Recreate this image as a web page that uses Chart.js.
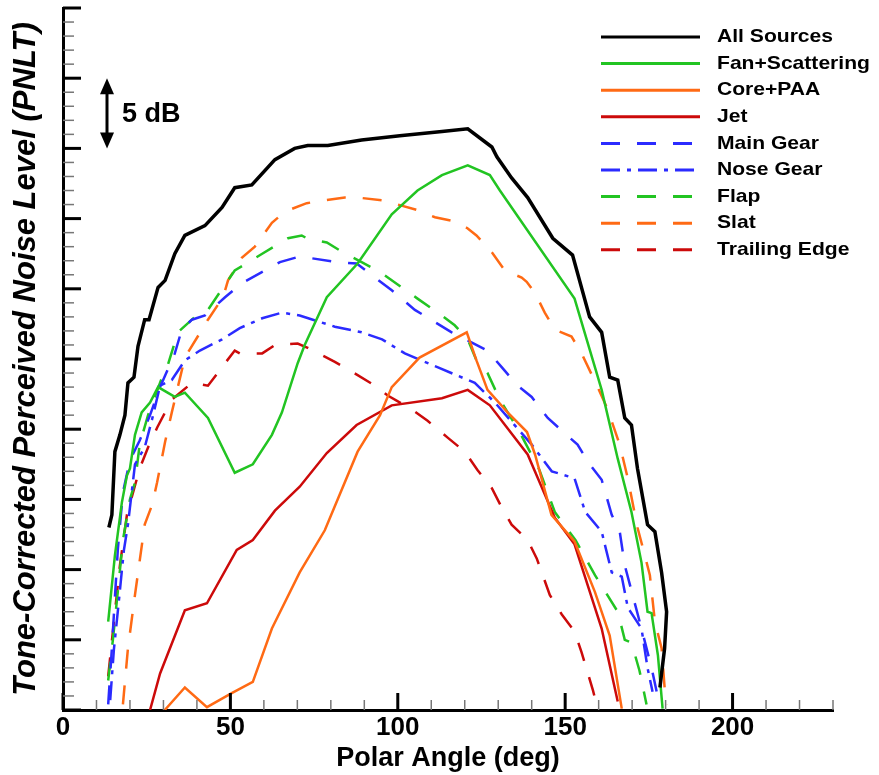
<!DOCTYPE html>
<html>
<head>
<meta charset="utf-8">
<script src="https://cdn.jsdelivr.net/npm/chart.js@4.4.1/dist/chart.umd.min.js"></script>
<style>
  html, body { margin: 0; padding: 0; background: #fff; }
  #wrap { position: relative; width: 879px; height: 775px; }
</style>
</head>
<body>
<div id="wrap"><canvas id="pnlt"></canvas></div>
<script>
// polar angle (deg) / PNLT level (dB, arbitrary zero) for each noise source
const allAngle = [13.7, 14.6, 15.5, 17.0, 18.5, 19.4, 21.2, 22.4, 24.4, 25.7, 28.4, 30.5, 33.4, 36.4, 42.4, 47.5, 51.3, 56.4, 63.3, 69.2, 73.1, 79.1, 89.2, 100.6, 113.2, 120.9, 128.1, 129.6, 134.0, 138.8, 146.3, 152.2, 157.3, 160.9, 163.3, 165.7, 167.8, 169.8, 171.6, 174.6, 176.8, 178.8, 180.3, 179.7, 178.3];
const allLevel = [13.0, 13.9, 18.4, 19.6, 21.0, 23.3, 23.7, 25.9, 27.8, 27.8, 30.1, 30.6, 32.5, 33.8, 34.5, 35.8, 37.2, 37.4, 39.2, 40.0, 40.2, 40.2, 40.6, 40.9, 41.2, 41.4, 40.1, 39.4, 37.9, 36.5, 33.6, 32.4, 28.0, 26.9, 23.7, 23.5, 20.8, 20.3, 17.2, 13.2, 12.7, 9.8, 7.0, 4.4, 1.6];

const fanAngle = [13.5, 15.5, 17.6, 19.1, 20.0, 21.5, 23.5, 26.0, 28.4, 33.4, 36.4, 43.3, 51.3, 56.7, 62.4, 65.4, 70.1, 72.2, 78.8, 88.0, 98.2, 105.9, 113.2, 120.9, 127.5, 130.5, 152.8, 160.9, 165.7, 169.8, 172.8, 174.6, 175.8, 177.7, 179.1];
const fanLevel = [6.3, 11.0, 14.8, 16.7, 17.2, 19.6, 21.2, 21.9, 23.0, 22.3, 22.6, 20.8, 16.9, 17.5, 19.6, 21.2, 24.7, 26.0, 29.4, 31.8, 35.3, 37.0, 38.1, 38.8, 38.1, 37.0, 29.3, 22.8, 17.9, 14.1, 10.5, 7.0, 6.9, 3.9, 0.1];

const coreAngle = [30.4, 36.4, 43.0, 50.4, 56.7, 62.4, 70.7, 78.2, 88.0, 94.7, 98.2, 106.5, 120.6, 123.5, 126.8, 132.8, 138.6, 141.0, 145.9, 152.8, 158.9, 163.3, 166.9];
const coreLevel = [0.0, 1.6, 0.2, 1.2, 2.0, 5.8, 9.8, 12.8, 18.4, 21.0, 23.0, 25.1, 26.9, 24.9, 22.8, 21.2, 19.8, 18.2, 13.9, 12.0, 8.4, 5.3, 0.1];

const jetAngle = [26.0, 29.0, 36.4, 43.0, 51.9, 56.7, 63.3, 70.7, 78.8, 87.7, 98.2, 113.2, 120.9, 127.5, 138.8, 146.9, 152.8, 160.9, 165.7];
const jetLevel = [0.0, 2.6, 7.1, 7.6, 11.4, 12.1, 14.2, 15.9, 18.3, 20.3, 21.7, 22.2, 22.8, 21.7, 18.2, 13.7, 11.8, 5.8, 0.6];

const mainGearAngle = [13.5, 14.6, 15.5, 16.4, 17.9, 20.0, 22.9, 26.0, 29.0, 33.4, 35.5, 38.5, 42.4, 48.4, 53.4, 60.3, 64.8, 70.7, 82.1, 87.7, 93.2, 98.2, 105.1, 116.1, 126.8, 131.1, 135.8, 140.0, 144.8, 149.0, 153.7, 157.3, 160.9, 163.9, 166.3, 167.8, 169.8, 172.8, 175.8, 177.7];
const mainGearLevel = [0.4, 4.4, 8.0, 11.5, 15.5, 17.8, 19.2, 21.0, 23.0, 25.4, 27.1, 27.8, 28.1, 29.4, 30.4, 31.3, 31.9, 32.3, 31.9, 31.8, 30.8, 29.9, 28.5, 26.9, 25.6, 24.4, 23.1, 22.3, 20.8, 19.9, 18.9, 17.5, 16.4, 13.9, 12.7, 10.3, 8.5, 5.8, 3.0, 0.9];

const noseGearAngle = [14.1, 15.2, 16.7, 18.2, 19.4, 21.5, 24.4, 26.6, 29.0, 32.5, 36.4, 40.9, 47.5, 52.8, 59.5, 65.4, 70.7, 81.2, 89.2, 95.3, 102.1, 112.0, 123.0, 129.0, 140.0, 146.0, 152.8, 156.0, 160.9, 163.9, 166.9, 168.7, 172.8, 174.6, 176.1];
const noseGearLevel = [0.7, 4.3, 7.8, 11.4, 13.2, 17.5, 18.7, 20.7, 23.1, 23.5, 24.9, 25.6, 26.4, 27.2, 27.9, 28.3, 28.1, 27.3, 26.9, 26.4, 25.4, 24.4, 23.3, 21.9, 18.9, 17.0, 16.5, 14.1, 12.7, 9.8, 9.5, 7.3, 5.8, 3.0, 1.3];

const flapAngle = [13.5, 14.9, 16.4, 17.9, 20.0, 21.5, 22.9, 25.4, 29.6, 31.1, 34.3, 39.4, 43.3, 47.8, 51.3, 59.5, 67.2, 71.3, 72.8, 78.8, 83.6, 89.2, 94.7, 101.2, 105.9, 112.0, 117.0, 120.9, 123.5, 126.8, 130.5, 136.4, 142.3, 146.9, 153.1, 158.9, 161.8, 165.7, 167.8, 169.8, 172.2, 174.3];
const flapLevel = [2.1, 5.0, 8.5, 12.1, 15.0, 16.2, 18.9, 21.0, 23.7, 24.4, 26.9, 28.0, 28.5, 30.1, 31.3, 32.5, 33.6, 33.8, 33.6, 33.3, 32.6, 31.9, 31.2, 30.1, 29.3, 28.3, 27.4, 26.4, 24.9, 24.0, 22.1, 19.8, 17.1, 14.1, 12.1, 9.6, 8.5, 7.0, 5.0, 4.8, 2.8, 0.4];

const slatAngle = [17.9, 19.4, 21.5, 24.4, 26.6, 28.1, 30.5, 32.5, 36.4, 43.3, 47.8, 49.3, 53.4, 57.3, 62.4, 66.3, 72.8, 78.2, 84.2, 88.0, 95.3, 100.0, 105.9, 111.1, 117.0, 120.9, 123.5, 128.1, 132.0, 137.0, 138.5, 141.0, 143.9, 146.9, 151.9, 154.9, 159.7, 162.7, 166.3, 168.7, 171.6, 173.8, 175.3, 176.8, 178.8, 179.7, 180.3];
const slatLevel = [0.4, 4.4, 8.2, 13.2, 14.6, 16.2, 19.1, 21.2, 25.1, 27.8, 29.4, 30.6, 32.2, 33.0, 34.7, 35.5, 36.1, 36.3, 36.5, 36.5, 36.3, 36.0, 35.6, 35.1, 34.8, 34.3, 33.8, 32.6, 31.3, 30.8, 30.5, 29.7, 28.3, 27.1, 26.6, 25.4, 23.0, 21.4, 18.9, 16.5, 13.0, 11.0, 9.6, 6.3, 4.4, 1.6, 0.4];

const teAngle = [13.5, 14.9, 17.0, 19.1, 22.9, 25.4, 28.1, 30.5, 32.5, 38.5, 43.3, 48.4, 51.3, 52.8, 59.5, 63.3, 70.1, 73.1, 81.2, 86.3, 93.2, 97.0, 104.2, 108.9, 114.9, 120.0, 123.8, 128.1, 131.1, 134.0, 138.8, 141.5, 145.4, 149.0, 152.8, 154.9, 158.3, 159.7];
const teLevel = [2.4, 5.6, 10.3, 13.9, 17.2, 18.7, 20.1, 21.2, 22.1, 23.3, 23.1, 24.7, 25.6, 25.4, 25.4, 26.0, 26.1, 25.8, 24.8, 24.1, 23.1, 22.4, 21.4, 20.6, 19.4, 18.4, 17.1, 15.8, 14.4, 13.2, 12.1, 10.8, 8.2, 6.8, 5.6, 4.1, 1.4, 0.1];

const xTickLabels = [0, 50, 100, 150, 200];

const BLACK = '#000000';
const GREEN = '#22c422';
const ORANGE = '#ff6a14';
const DARKRED = '#cc0a0a';
const BLUE = '#2b2bff';
const DASH = [19, 17];
const DASHDOT = [19, 7, 4, 7];

function pts(xs, ys) {
	return xs.map((v, i) => ({ x: v, y: ys[i] }));
}

function series(label, xs, ys, color, dash, width) {
	return {
		label: label,
		data: pts(xs, ys),
		borderColor: color,
		backgroundColor: color,
		borderWidth: width || 2.5,
		borderDash: dash || [],
		pointRadius: 0,
		tension: 0,
		fill: false
	};
}

const datasets = [
	series('All Sources', allAngle, allLevel, BLACK, null, 3.5),
	series('Fan+Scattering', fanAngle, fanLevel, GREEN),
	series('Core+PAA', coreAngle, coreLevel, ORANGE),
	series('Jet', jetAngle, jetLevel, DARKRED),
	series('Main Gear', mainGearAngle, mainGearLevel, BLUE, DASH),
	series('Nose Gear', noseGearAngle, noseGearLevel, BLUE, DASHDOT),
	series('Flap', flapAngle, flapLevel, GREEN, DASH),
	series('Slat', slatAngle, slatLevel, ORANGE, DASH),
	series('Trailing Edge', teAngle, teLevel, DARKRED, DASH)
];

// inward tick marks on both axes (major every 50 deg / 5 dB)
const insideTicks = {
	id: 'insideTicks',
	afterDraw(chart) {
		const { ctx, chartArea: a, scales: { x, y } } = chart;
		ctx.save();
		for (let v = 0; v <= 230; v += 10) {
			const px = x.getPixelForValue(v);
			const major = v % 50 === 0;
			ctx.strokeStyle = major ? '#000' : '#777';
			ctx.lineWidth = major ? 3 : 1.5;
			ctx.beginPath();
			ctx.moveTo(px, a.bottom);
			ctx.lineTo(px, a.bottom - (major ? 17 : 10));
			ctx.stroke();
		}
		for (let v = 0; v <= 50; v += 1) {
			const py = y.getPixelForValue(v);
			const major = v % 5 === 0;
			ctx.strokeStyle = major ? '#000' : '#777';
			ctx.lineWidth = major ? 3 : 1.5;
			ctx.beginPath();
			ctx.moveTo(a.left, py);
			ctx.lineTo(a.left + (major ? 18 : 11), py);
			ctx.stroke();
		}
		ctx.restore();
	}
};

// 5 dB scale arrow
const dbArrow = {
	id: 'dbArrow',
	afterDraw(chart) {
		const { ctx, chartArea: a, scales: { y } } = chart;
		const ax = a.left + 44;
		const top = y.getPixelForValue(45);
		const bot = y.getPixelForValue(40);
		ctx.save();
		ctx.strokeStyle = '#000';
		ctx.fillStyle = '#000';
		ctx.lineWidth = 3;
		ctx.beginPath();
		ctx.moveTo(ax, top + 12);
		ctx.lineTo(ax, bot - 12);
		ctx.stroke();
		ctx.beginPath();
		ctx.moveTo(ax, top);
		ctx.lineTo(ax - 7, top + 16);
		ctx.lineTo(ax + 7, top + 16);
		ctx.closePath();
		ctx.fill();
		ctx.beginPath();
		ctx.moveTo(ax, bot);
		ctx.lineTo(ax - 7, bot - 16);
		ctx.lineTo(ax + 7, bot - 16);
		ctx.closePath();
		ctx.fill();
		ctx.font = 'bold 27px "Liberation Sans", Arial, sans-serif';
		ctx.textBaseline = 'middle';
		ctx.fillText('5 dB', ax + 15, (top + bot) / 2 + 1);
		ctx.restore();
	}
};

// line-sample legend in the upper right
const lineLegend = {
	id: 'lineLegend',
	afterDraw(chart) {
		const { ctx } = chart;
		ctx.save();
		chart.data.datasets.forEach((ds, i) => {
			const yy = 37 + i * 26.6;
			ctx.strokeStyle = ds.borderColor;
			ctx.lineWidth = 3;
			ctx.setLineDash(ds.borderDash);
			ctx.beginPath();
			ctx.moveTo(601, yy);
			ctx.lineTo(700, yy);
			ctx.stroke();
			ctx.setLineDash([]);
			ctx.fillStyle = '#000';
			ctx.font = 'bold 19px "Liberation Sans", Arial, sans-serif';
			ctx.textBaseline = 'middle';
			ctx.save();
			ctx.translate(717, yy);
			ctx.scale(1.11, 1);
			ctx.fillText(ds.label, 0, 0);
			ctx.restore();
		});
		ctx.restore();
	}
};

const FONT = '"Liberation Sans", Arial, sans-serif';

const config = {
	type: 'line',
	data: { datasets: datasets },
	options: {
		responsive: true,
		maintainAspectRatio: false,
		animation: false,
		layout: { padding: { top: 8, right: 46, left: 0, bottom: 0 } },
		plugins: {
			legend: { display: false },
			tooltip: { enabled: false }
		},
		scales: {
			x: {
				type: 'linear',
				min: 0,
				max: 230,
				grid: { display: false, drawTicks: false },
				border: { display: true, color: '#000', width: 3 },
				ticks: {
					stepSize: 50,
					includeBounds: false,
					maxRotation: 0,
					padding: 2,
					color: '#000',
					font: { family: FONT, size: 26, weight: 'bold' },
					callback: v => xTickLabels.includes(v) ? String(v) : ''
				},
				title: {
					display: true,
					text: 'Polar Angle (deg)',
					color: '#000',
					font: { family: FONT, size: 27, weight: 'bold' },
					padding: { top: 7, bottom: 0 }
				},
				afterFit(s) { s.height = 65; }
			},
			y: {
				type: 'linear',
				min: 0,
				max: 50,
				grid: { display: false, drawTicks: false },
				border: { display: true, color: '#000', width: 3 },
				ticks: { display: false },
				title: {
					display: true,
					text: 'Tone-Corrected Perceived Noise Level (PNLT)',
					color: '#000',
					font: { family: FONT, size: 31, weight: 'bold', style: 'italic' },
					padding: { top: 8, bottom: 0 }
				},
				afterFit(s) { s.width = 63; }
			}
		}
	},
	plugins: [insideTicks, dbArrow, lineLegend]
};

new Chart(document.getElementById('pnlt').getContext('2d'), config);
</script>
</body>
</html>
